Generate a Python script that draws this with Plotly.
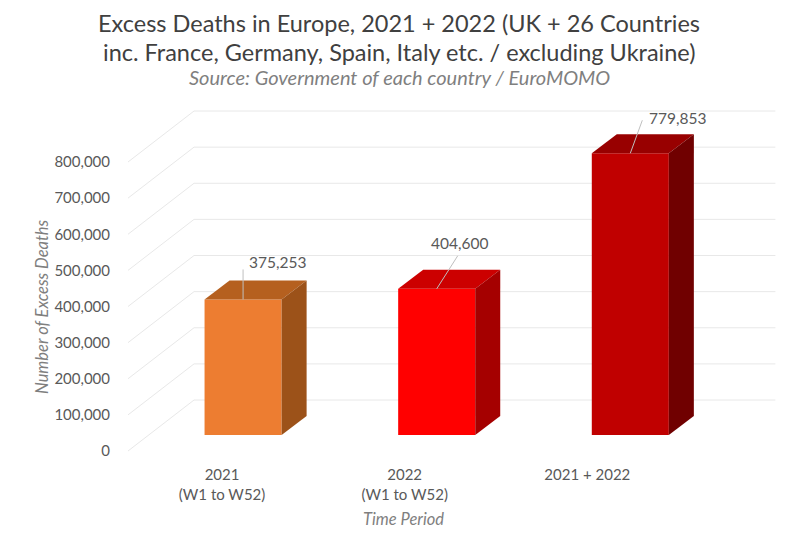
import plotly.graph_objects as go

# ---------------- data ----------------
categories = ["2021", "2022", "2021 + 2022"]
category_sub = ["(W1 to W52)", "(W1 to W52)", ""]
excess_deaths = [375253, 404600, 779853]
y_tick_values = [0, 100000, 200000, 300000, 400000, 500000, 600000, 700000, 800000]

title_lines = ["Excess Deaths in Europe, 2021 + 2022 (UK + 26 Countries",
               "inc. France, Germany, Spain, Italy etc. / excluding Ukraine)"]
subtitle = "Source: Government of each country / EuroMOMO"
y_title = "Number of Excess Deaths"
x_title = "Time Period"

# ---------------- styles ----------------
front_colors = ["#ED7D31", "#FF0000", "#C00000"]
top_colors = ["#B5601F", "#CC0000", "#980000"]
side_colors = ["#9C5219", "#A50000", "#700000"]
FONT = "Lato"
TXT = "#595959"
GRID = "#E8E8E8"

# ---------------- geometry (screen pixels) ----------------
W, H = 800, 539
PAGE = 8                    # page body margin offset of the figure on screen
PLOT_L, PLOT_R, PLOT_T, PLOT_B = 122, 778.6, 104, 458   # desired plot area on screen
ML = PLOT_L - PAGE
MT = PLOT_T - PAGE
MR = W - (PLOT_R - PAGE)
MB = H - (PLOT_B - PAGE)
PW, PH = PLOT_R - PLOT_L, PLOT_B - PLOT_T
SX = 182.5                 # px per category step at the front plane
SY = 36.125 / 100000       # px per death
CAT0_PX = 222              # screen x of first category at the front plane
ZERO_PX = 451              # screen y of value 0 at the front plane
x_min = -(CAT0_PX - PLOT_L) / SX
x_max = x_min + PW / SX
y_min = -(PLOT_B - ZERO_PX) / SY
y_max = y_min + PH / SY


def dx(px):
    return px / SX


def dy(px):
    return px / SY


def paper_x(px):
    return (px - PLOT_L) / PW


def paper_y(py):
    return (PLOT_B - py) / PH


# bar placement (perspective approximated)
BAR_OFF_PX, BAR_STEP_PX = 21, 193.5
BAR_W_PX = 77
BAR_LIFT_PX = 16
DEPTH_X_PX, DEPTH_Y_PX = 25, 19
# back wall
WALL_FRONT_LEFT_PX = 128
WALL_DX_PX, WALL_DY_PX = 66, 51
WALL_RIGHT_PX = 775
# label offsets relative to bar front-top centre: (text centre dx, dy, leader end dx, dy)
label_offsets = [(34, -37, 0, -30), (23, -46, 21, -33), (47, -35, 12, -33)]

fig = go.Figure()

# back wall gridlines + floor diagonals (shapes below traces)
shapes = []
xl0 = dx(WALL_FRONT_LEFT_PX - CAT0_PX)
xb0 = xl0 + dx(WALL_DX_PX)
xr = dx(WALL_RIGHT_PX - CAT0_PX)
for v in y_tick_values:
    vb = v + dy(WALL_DY_PX)
    shapes.append(dict(type="line", xref="x", yref="y", x0=xl0, y0=v, x1=xb0, y1=vb,
                       line=dict(color=GRID, width=1), layer="below"))
    shapes.append(dict(type="line", xref="x", yref="y", x0=xb0, y0=vb, x1=xr, y1=vb,
                       line=dict(color=GRID, width=1), layer="below"))

bar_x = [dx(BAR_OFF_PX) + i * BAR_STEP_PX / SX for i in range(len(categories))]
lift = dy(BAR_LIFT_PX)
bw = dx(BAR_W_PX)

# front faces
fig.add_trace(go.Bar(x=bar_x, y=excess_deaths, base=[lift] * len(excess_deaths),
                     width=bw, marker=dict(color=front_colors, line=dict(width=0)),
                     hoverinfo="skip", showlegend=False))

ddx, ddy = dx(DEPTH_X_PX), dy(DEPTH_Y_PX)
annotations = []
for i, v in enumerate(excess_deaths):
    xl = bar_x[i] - bw / 2
    xrr = bar_x[i] + bw / 2
    top = v + lift
    # top face
    fig.add_trace(go.Scatter(x=[xl, xrr, xrr + ddx, xl + ddx, xl],
                             y=[top, top, top + ddy, top + ddy, top],
                             fill="toself", fillcolor=top_colors[i], mode="lines",
                             line=dict(width=0, color=top_colors[i]),
                             hoverinfo="skip", showlegend=False))
    # side face
    fig.add_trace(go.Scatter(x=[xrr, xrr, xrr + ddx, xrr + ddx, xrr],
                             y=[lift, top, top + ddy, lift + ddy, lift],
                             fill="toself", fillcolor=side_colors[i], mode="lines",
                             line=dict(width=0, color=side_colors[i]),
                             hoverinfo="skip", showlegend=False))
    tdx, tdy, ldx, ldy = label_offsets[i]
    # leader line
    fig.add_trace(go.Scatter(x=[bar_x[i], bar_x[i] + dx(ldx)],
                             y=[top, top - dy(ldy)], mode="lines",
                             line=dict(width=1, color="#BFBFBF"),
                             hoverinfo="skip", showlegend=False))
    annotations.append(dict(x=bar_x[i] + dx(tdx), y=top - dy(tdy), xref="x", yref="y",
                            text=f"{v:,}", showarrow=False, xanchor="center", yanchor="middle",
                            font=dict(family=FONT, size=15.5, color=TXT)))

# titles
title_y = [23, 52]
for line, py in zip(title_lines, title_y):
    annotations.append(dict(x=paper_x(399), y=paper_y(py), xref="paper", yref="paper",
                            text=line, showarrow=False, xanchor="center", yanchor="middle",
                            font=dict(family=FONT, size=23.5, color="#404040")))
annotations.append(dict(x=paper_x(399), y=paper_y(77), xref="paper", yref="paper",
                        text=f"<i>{subtitle}</i>", showarrow=False,
                        xanchor="center", yanchor="middle",
                        font=dict(family=FONT, size=20, color="#7F7F7F")))
annotations.append(dict(x=paper_x(42), y=paper_y(306), xref="paper", yref="paper",
                        text=f"<i>{y_title}</i>", showarrow=False, textangle=-90,
                        xanchor="center", yanchor="middle",
                        font=dict(family=FONT, size=16.5, color="#7F7F7F")))
annotations.append(dict(x=paper_x(403), y=paper_y(519), xref="paper", yref="paper",
                        text=f"<i>{x_title}</i>", showarrow=False,
                        xanchor="center", yanchor="middle",
                        font=dict(family=FONT, size=16.5, color="#7F7F7F")))

tick_text = [c if not s else f"{c}<br>{s}" for c, s in zip(categories, category_sub)]

fig.update_layout(
    width=W, height=H,
    margin=dict(l=ML, r=MR, t=MT, b=MB, autoexpand=False),
    paper_bgcolor="white", plot_bgcolor="white",
    shapes=shapes, annotations=annotations,
    showlegend=False,
    xaxis=dict(range=[x_min, x_max], tickvals=list(range(len(categories))),
               ticktext=tick_text, showgrid=False, zeroline=False, showline=False,
               ticks="", ticklabelstandoff=6,
               tickfont=dict(family=FONT, size=15, color=TXT), fixedrange=True),
    yaxis=dict(range=[y_min, y_max], tickvals=y_tick_values, tickformat=",",
               showgrid=False, zeroline=False, showline=False, ticks="",
               ticklabelstandoff=11,
               tickfont=dict(family=FONT, size=15, color=TXT), fixedrange=True),
)

fig.write_html("out.html")
